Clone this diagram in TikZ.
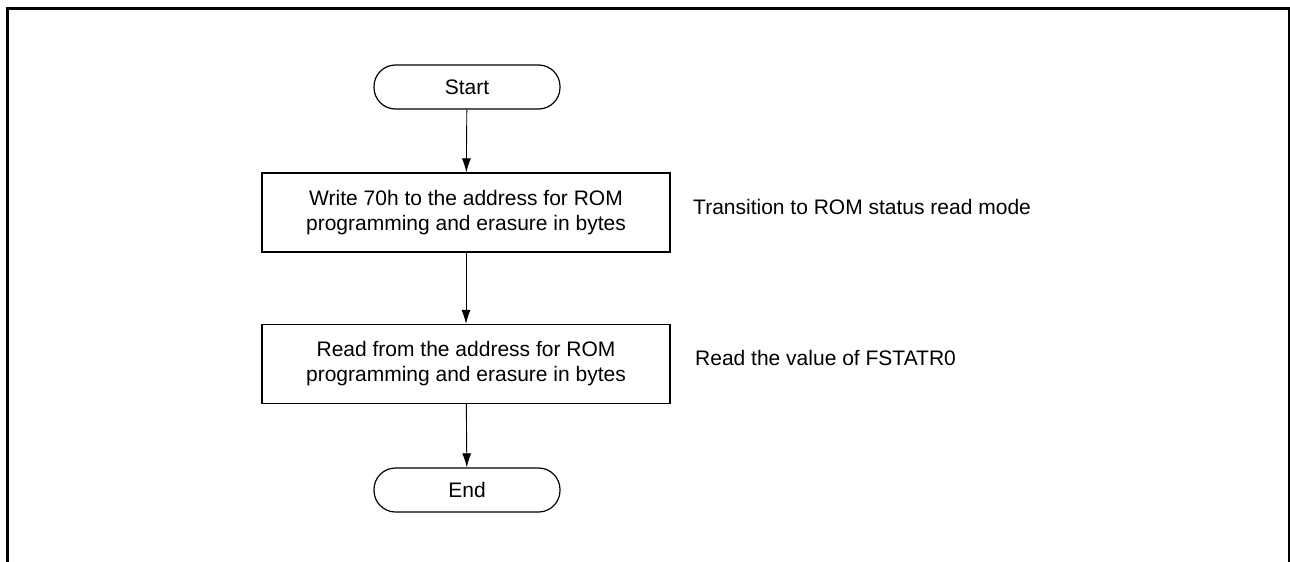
\documentclass[tikz,border=0pt]{standalone}
\usepackage{fontspec}
\setmainfont{Liberation Sans}
\usetikzlibrary{arrows.meta}
\begin{document}
\begin{tikzpicture}[x=1pt,y=-1pt,
 txt/.style={font=\fontsize{21}{25}\selectfont},
 term/.style={txt, draw, line width=1.2pt, rounded corners=21.5pt, minimum width=186pt, minimum height=44pt, inner sep=0pt},
 proc/.style={txt, draw, line width=1.2pt, minimum width=408pt, minimum height=79pt, inner sep=0pt, align=center},
 note/.style={txt, anchor=west, inner sep=0pt},
 flow/.style={line width=0.9pt, -{Latex[length=14pt,width=9pt]}}]
\useasboundingbox (0,0) rectangle (1290,562);
\draw[line width=3pt] (7.5,562) -- (7.5,8.5) -- (1290,8.5);
\draw[line width=1.5pt] (1289,8.5) -- (1289,562);
\node[term] (start) at (467,87) {Start};
\node[proc] (w) at (466,212.5) {Write 70h to the address for ROM\\programming and erasure in bytes};
\node[proc] (r) at (466,364) {Read from the address for ROM\\programming and erasure in bytes};
\node[term] (end) at (467,490) {End};
\node[note] (n1) at (693,207) {Transition to ROM status read mode};
\node[note] (n2) at (695,358) {Read the value of FSTATR0};
\draw[flow] (start) -- (w);
\draw[flow] (w) -- (r);
\draw[flow] (r) -- (end);
\end{tikzpicture}
\end{document}
